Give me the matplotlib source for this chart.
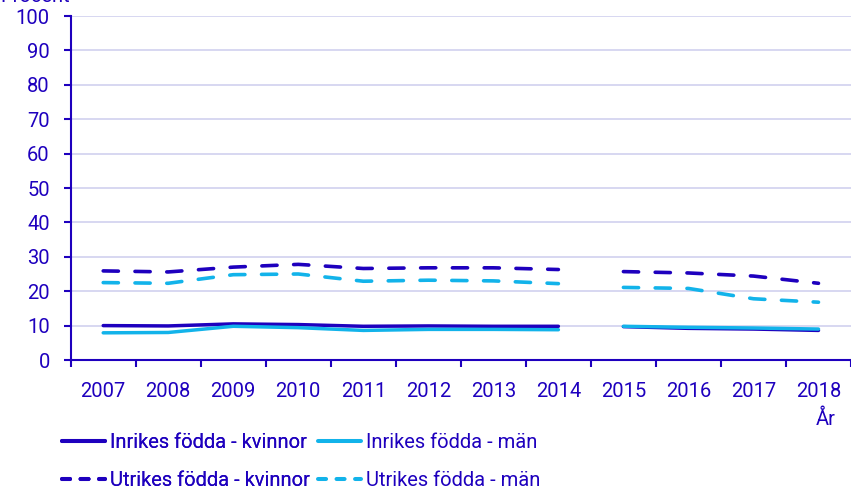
import numpy as np
import matplotlib
matplotlib.use("Agg")
import matplotlib.pyplot as plt
from matplotlib.lines import Line2D

plt.rcParams["font.family"] = ["Roboto", "DejaVu Sans"]

# ── DATA ────────────────────────────────────────────────────
years = ["2007", "2008", "2009", "2010", "2011", "2012",
         "2013", "2014", "2015", "2016", "2017", "2018"]
inrikes_kvinnor = [10.0, 9.9, 10.5, 10.3, 9.8, 9.9, 9.8, 9.8, 9.7, 9.2, 9.0, 8.6]
inrikes_man     = [7.9, 8.0, 9.8, 9.4, 8.6, 8.9, 8.9, 8.8, 9.8, 9.5, 9.3, 9.0]
utrikes_kvinnor = [25.9, 25.6, 27.0, 27.8, 26.6, 26.8, 26.8, 26.3, 25.7, 25.3, 24.4, 22.3]
utrikes_man     = [22.5, 22.3, 24.8, 25.0, 22.9, 23.2, 23.0, 22.2, 21.1, 20.8, 17.8, 16.8]

# the series break between 2014 and 2015
segments = [slice(0, 8), slice(8, 12)]

dark = "#1E00BE"
light = "#12B3EA"
grid_col = "#D4D4F0"
fs = 14.5

fig = plt.figure(figsize=(8.51, 4.91), dpi=100)
ax = fig.add_axes([70.7 / 851, (491 - 360) / 491, (851 - 70.7) / 851, 344 / 491])

x = np.arange(len(years))
series = [
    (inrikes_kvinnor, dark, "-", "Inrikes födda - kvinnor"),
    (utrikes_kvinnor, dark, "--", "Utrikes födda - kvinnor"),
    (inrikes_man, light, "-", "Inrikes födda - män"),
    (utrikes_man, light, "--", "Utrikes födda - män"),
]
handles = []
for vals, col, ls, lab in series:
    vals = np.array(vals)
    for seg in segments:
        if ls == "--":
            ax.plot(x[seg], vals[seg], color=col, lw=2.6, ls=(0, (4.2, 4.6)),
                    dash_capstyle="round", solid_capstyle="round", zorder=3)
        else:
            ax.plot(x[seg], vals[seg], color=col, lw=2.5,
                    solid_capstyle="round", zorder=3)
    handles.append(Line2D([], [], color=col, lw=2.9,
                          ls=(0, (2.0, 2.6)) if ls == "--" else "-",
                          dash_capstyle="round", solid_capstyle="round", label=lab))

ax.set_ylim(0, 100)
ax.set_xlim(-0.5, 11.41)
ax.set_yticks(range(0, 101, 10))
ax.yaxis.grid(True, color=grid_col, lw=1.3)
ax.set_axisbelow(True)

ax.set_xticks(np.arange(-0.5, 12, 1))
ax.set_xticklabels([])
ax.set_xticks(x, minor=True)
ax.set_xticklabels(years, minor=True)
ax.tick_params(axis="x", which="major", length=5, width=1.5, color=dark)
ax.tick_params(axis="x", which="minor", length=0, pad=15.5, labelsize=fs, labelcolor=dark)
ax.tick_params(axis="y", length=5, width=1.5, color=dark, labelsize=fs,
               labelcolor=dark, pad=10)

for s in ["top", "right"]:
    ax.spines[s].set_visible(False)
ax.spines["left"].set_color(dark)
ax.spines["bottom"].set_color(dark)
ax.spines["left"].set_linewidth(1.5)
ax.spines["bottom"].set_linewidth(1.5)

fig.text(0.0, 1.0 + 3 / 491, "Procent", color=dark, fontsize=fs, va="center", ha="left")
fig.text(826 / 851, 1 - 419 / 491, "År", color=dark, fontsize=fs, va="center", ha="center")

leg_kw = dict(loc="upper left", frameon=False, fontsize=fs, labelcolor=dark,
              handlelength=2.15, handletextpad=0.25, labelspacing=0.95,
              borderpad=0, borderaxespad=0)
leg1 = fig.legend(handles=handles[:2], bbox_to_anchor=(62 / 851, 1 - 433 / 491), **leg_kw)
fig.add_artist(leg1)
fig.legend(handles=handles[2:], bbox_to_anchor=(318 / 851, 1 - 433 / 491), **leg_kw)

fig.savefig("out.png", dpi=100)
